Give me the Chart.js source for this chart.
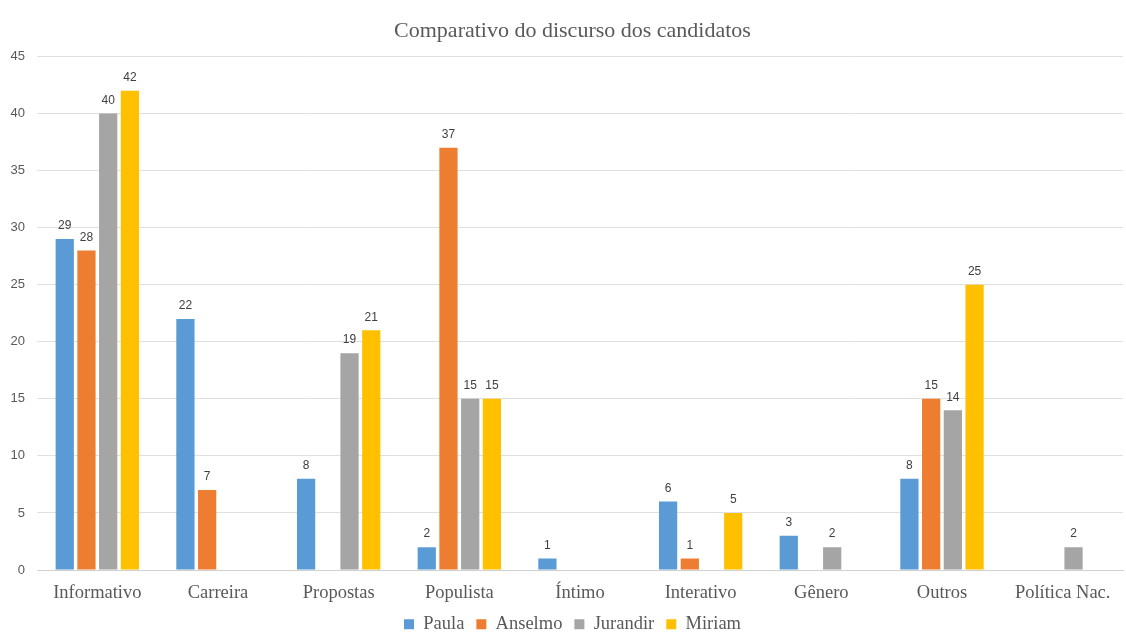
<!DOCTYPE html>
<html>
<head>
<meta charset="utf-8">
<script src="https://cdn.jsdelivr.net/npm/chart.js@4"></script>
<style>
html,body{margin:0;padding:0;background:#fff;}
#wrap{width:1126px;height:634px;}
</style>
</head>
<body>
<div id="wrap"><canvas id="c" width="1126" height="634"></canvas></div>
<script>
const categories = ["Informativo","Carreira","Propostas","Populista","Íntimo","Interativo","Gênero","Outros","Política Nac."];
const paula    = [29, 22, 8, 2, 1, 6, 3, 8, null];
const anselmo  = [28, 7, null, 37, null, 1, null, 15, null];
const jurandir = [40, null, 19, 15, null, null, 2, 14, 2];
const miriam   = [42, null, 21, 15, null, 5, null, 25, null];
const yTicks = [0,5,10,15,20,25,30,35,40,45];

const serif = "'Liberation Serif','Times New Roman',serif";
const sans = "'Liberation Sans','DejaVu Sans',sans-serif";

const labelPlugin = {
  id: 'barLabels',
  afterDatasetsDraw(chart) {
    const ctx = chart.ctx;
    ctx.save();
    ctx.font = "12px " + sans;
    ctx.fillStyle = "#404040";
    ctx.textAlign = "center";
    ctx.textBaseline = "bottom";
    chart.data.datasets.forEach((ds, i) => {
      const meta = chart.getDatasetMeta(i);
      meta.data.forEach((bar, j) => {
        const v = ds.data[j];
        if (v === null || v === undefined) return;
        ctx.fillText(String(v), bar.x, bar.y - 7);
      });
    });
    ctx.restore();
  }
};

const mk = (label, data, color) => ({
  label, data, backgroundColor: color, borderWidth: 0,
  categoryPercentage: 0.72, barPercentage: 0.84
});

new Chart(document.getElementById('c'), {
  type: 'bar',
  data: {
    labels: categories,
    datasets: [
      mk('Paula', paula, '#5B9BD5'),
      mk('Anselmo', anselmo, '#ED7D31'),
      mk('Jurandir', jurandir, '#A5A5A5'),
      mk('Miriam', miriam, '#FFC000')
    ]
  },
  options: {
    responsive: false,
    animation: false,
    layout: { padding: { left: 2, right: -17, top: 8, bottom: 0 } },
    plugins: {
      title: {
        display: true,
        text: 'Comparativo do discurso dos candidatos',
        color: '#595959',
        font: { family: serif, size: 22, weight: 'normal' },
        padding: { top: 10, bottom: 12 }
      },
      legend: {
        position: 'bottom',
        maxHeight: 31,
        labels: {
          color: '#595959',
          font: { family: serif, size: 18.5 },
          boxWidth: 10, boxHeight: 10,
          padding: 12
        }
      },
      tooltip: { enabled: false }
    },
    scales: {
      x: {
        grid: { display: false, drawTicks: false },
        border: { color: '#D0D0D0' },
        ticks: { color: '#595959', font: { family: serif, size: 18.5 }, padding: 12 },
        afterFit(axis) { axis.height = 33; }
      },
      y: {
        min: 0, max: 45,
        afterBuildTicks(axis) { axis.ticks = yTicks.map(v => ({ value: v })); },
        afterFit(axis) { axis.width = 35; },
        grid: { color: '#E0E0E0', drawTicks: false },
        border: { display: false },
        ticks: { color: '#595959', font: { family: sans, size: 13 }, padding: 12 }
      },
      yRight: {
        type: 'linear',
        position: 'right',
        display: true,
        min: 0, max: 45,
        grid: { display: false, drawTicks: false },
        border: { display: false },
        ticks: { display: false },
        afterFit(axis) { axis.width = 20; }
      }
    }
  },
  plugins: [labelPlugin]
});
</script>
</body>
</html>
